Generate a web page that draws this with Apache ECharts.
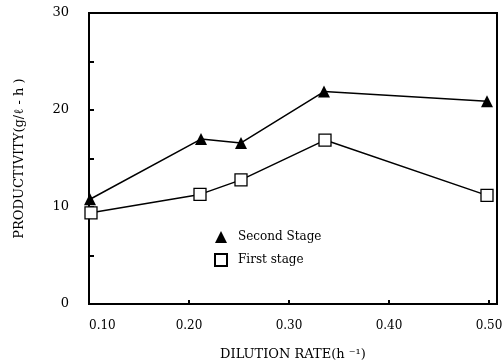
<!DOCTYPE html>
<html>
<head>
<meta charset="utf-8">
<script src="https://cdn.jsdelivr.net/npm/echarts@6/dist/echarts.min.js"></script>
<style>
  html, body { margin: 0; padding: 0; background: #fff; }
  #chart { width: 504px; height: 363px; }
</style>
</head>
<body>
<div id="chart"></div>
<script>
// 读图数据
const secondX = [0.101, 0.212, 0.252, 0.335, 0.498]
const secondY = [10.8, 17.0, 16.6, 21.9, 20.9]
const firstX = [0.102, 0.211, 0.252, 0.336, 0.498]
const firstY = [9.4, 11.3, 12.8, 16.9, 11.2]
const xTicks = [0.1, 0.2, 0.3, 0.4, 0.5]
const yTicks = [0, 10, 20, 30]

const font = 'DejaVu Serif'

function pairs(xs, ys) {
  return xs.map((x, i) => [x, ys[i]])
}

const myChart = echarts.init(document.getElementById('chart'))
const option = {
  animation: false,
  backgroundColor: '#fff',
  grid: {
    left: 89,
    right: 7,
    top: 13,
    bottom: 59,
    outerBoundsMode: 'none',
    containLabel: false,
    show: true,
    borderColor: '#000',
    borderWidth: 2,
  },
  legend: {
    orient: 'vertical',
    left: 209,
    top: 226,
    itemGap: 10,
    itemWidth: 12,
    itemHeight: 12,
    data: [
      { name: 'Second Stage', icon: 'triangle' },
      { name: 'First stage', icon: 'rect' },
    ],
    textStyle: { fontFamily: font, fontSize: 12, color: '#000', padding: [0, 0, 0, 6] },
  },
  xAxis: {
    type: 'value',
    min: 0.1,
    max: 0.508,
    interval: 0.1,
    name: 'DILUTION RATE(h \u207B\u00B9)',
    nameLocation: 'middle',
    nameGap: 44,
    nameTextStyle: { fontFamily: font, fontSize: 13, color: '#000' },
    axisLine: { lineStyle: { color: '#000', width: 2 } },
    axisTick: {
      inside: true,
      length: 4,
      lineStyle: { color: '#000', width: 2 },
      customValues: [0.2, 0.3, 0.4, 0.5],
    },
    axisLabel: {
      customValues: xTicks,
      formatter: v => v.toFixed(2),
      alignMinLabel: 'left',
      margin: 16,
      fontFamily: font,
      fontSize: 12,
      color: '#000',
    },
    splitLine: { show: false },
  },
  yAxis: {
    type: 'value',
    min: 0,
    max: 30,
    interval: 5,
    name: 'PRODUCTIVITY(g/\u2113 - h )',
    nameLocation: 'middle',
    nameGap: 63,
    nameTextStyle: { fontFamily: font, fontSize: 13, color: '#000' },
    axisLine: { lineStyle: { color: '#000', width: 2 } },
    axisTick: {
      inside: true,
      length: 5,
      lineStyle: { color: '#000', width: 2 },
    },
    axisLabel: {
      customValues: yTicks,
      margin: 20,
      fontFamily: font,
      fontSize: 13,
      color: '#000',
    },
    splitLine: { show: false },
  },
  series: [
    {
      name: 'Second Stage',
      type: 'line',
      data: pairs(secondX, secondY),
      symbol: 'triangle',
      symbolSize: 12,
      itemStyle: { color: '#000' },
      lineStyle: { color: '#000', width: 1.5 },
    },
    {
      name: 'First stage',
      type: 'line',
      data: pairs(firstX, firstY),
      symbol: 'rect',
      symbolSize: 12,
      itemStyle: { color: '#fff', borderColor: '#000', borderWidth: 1.3 },
      lineStyle: { color: '#000', width: 1.5 },
    },
  ],
}
myChart.setOption(option, true)
</script>
</body>
</html>
